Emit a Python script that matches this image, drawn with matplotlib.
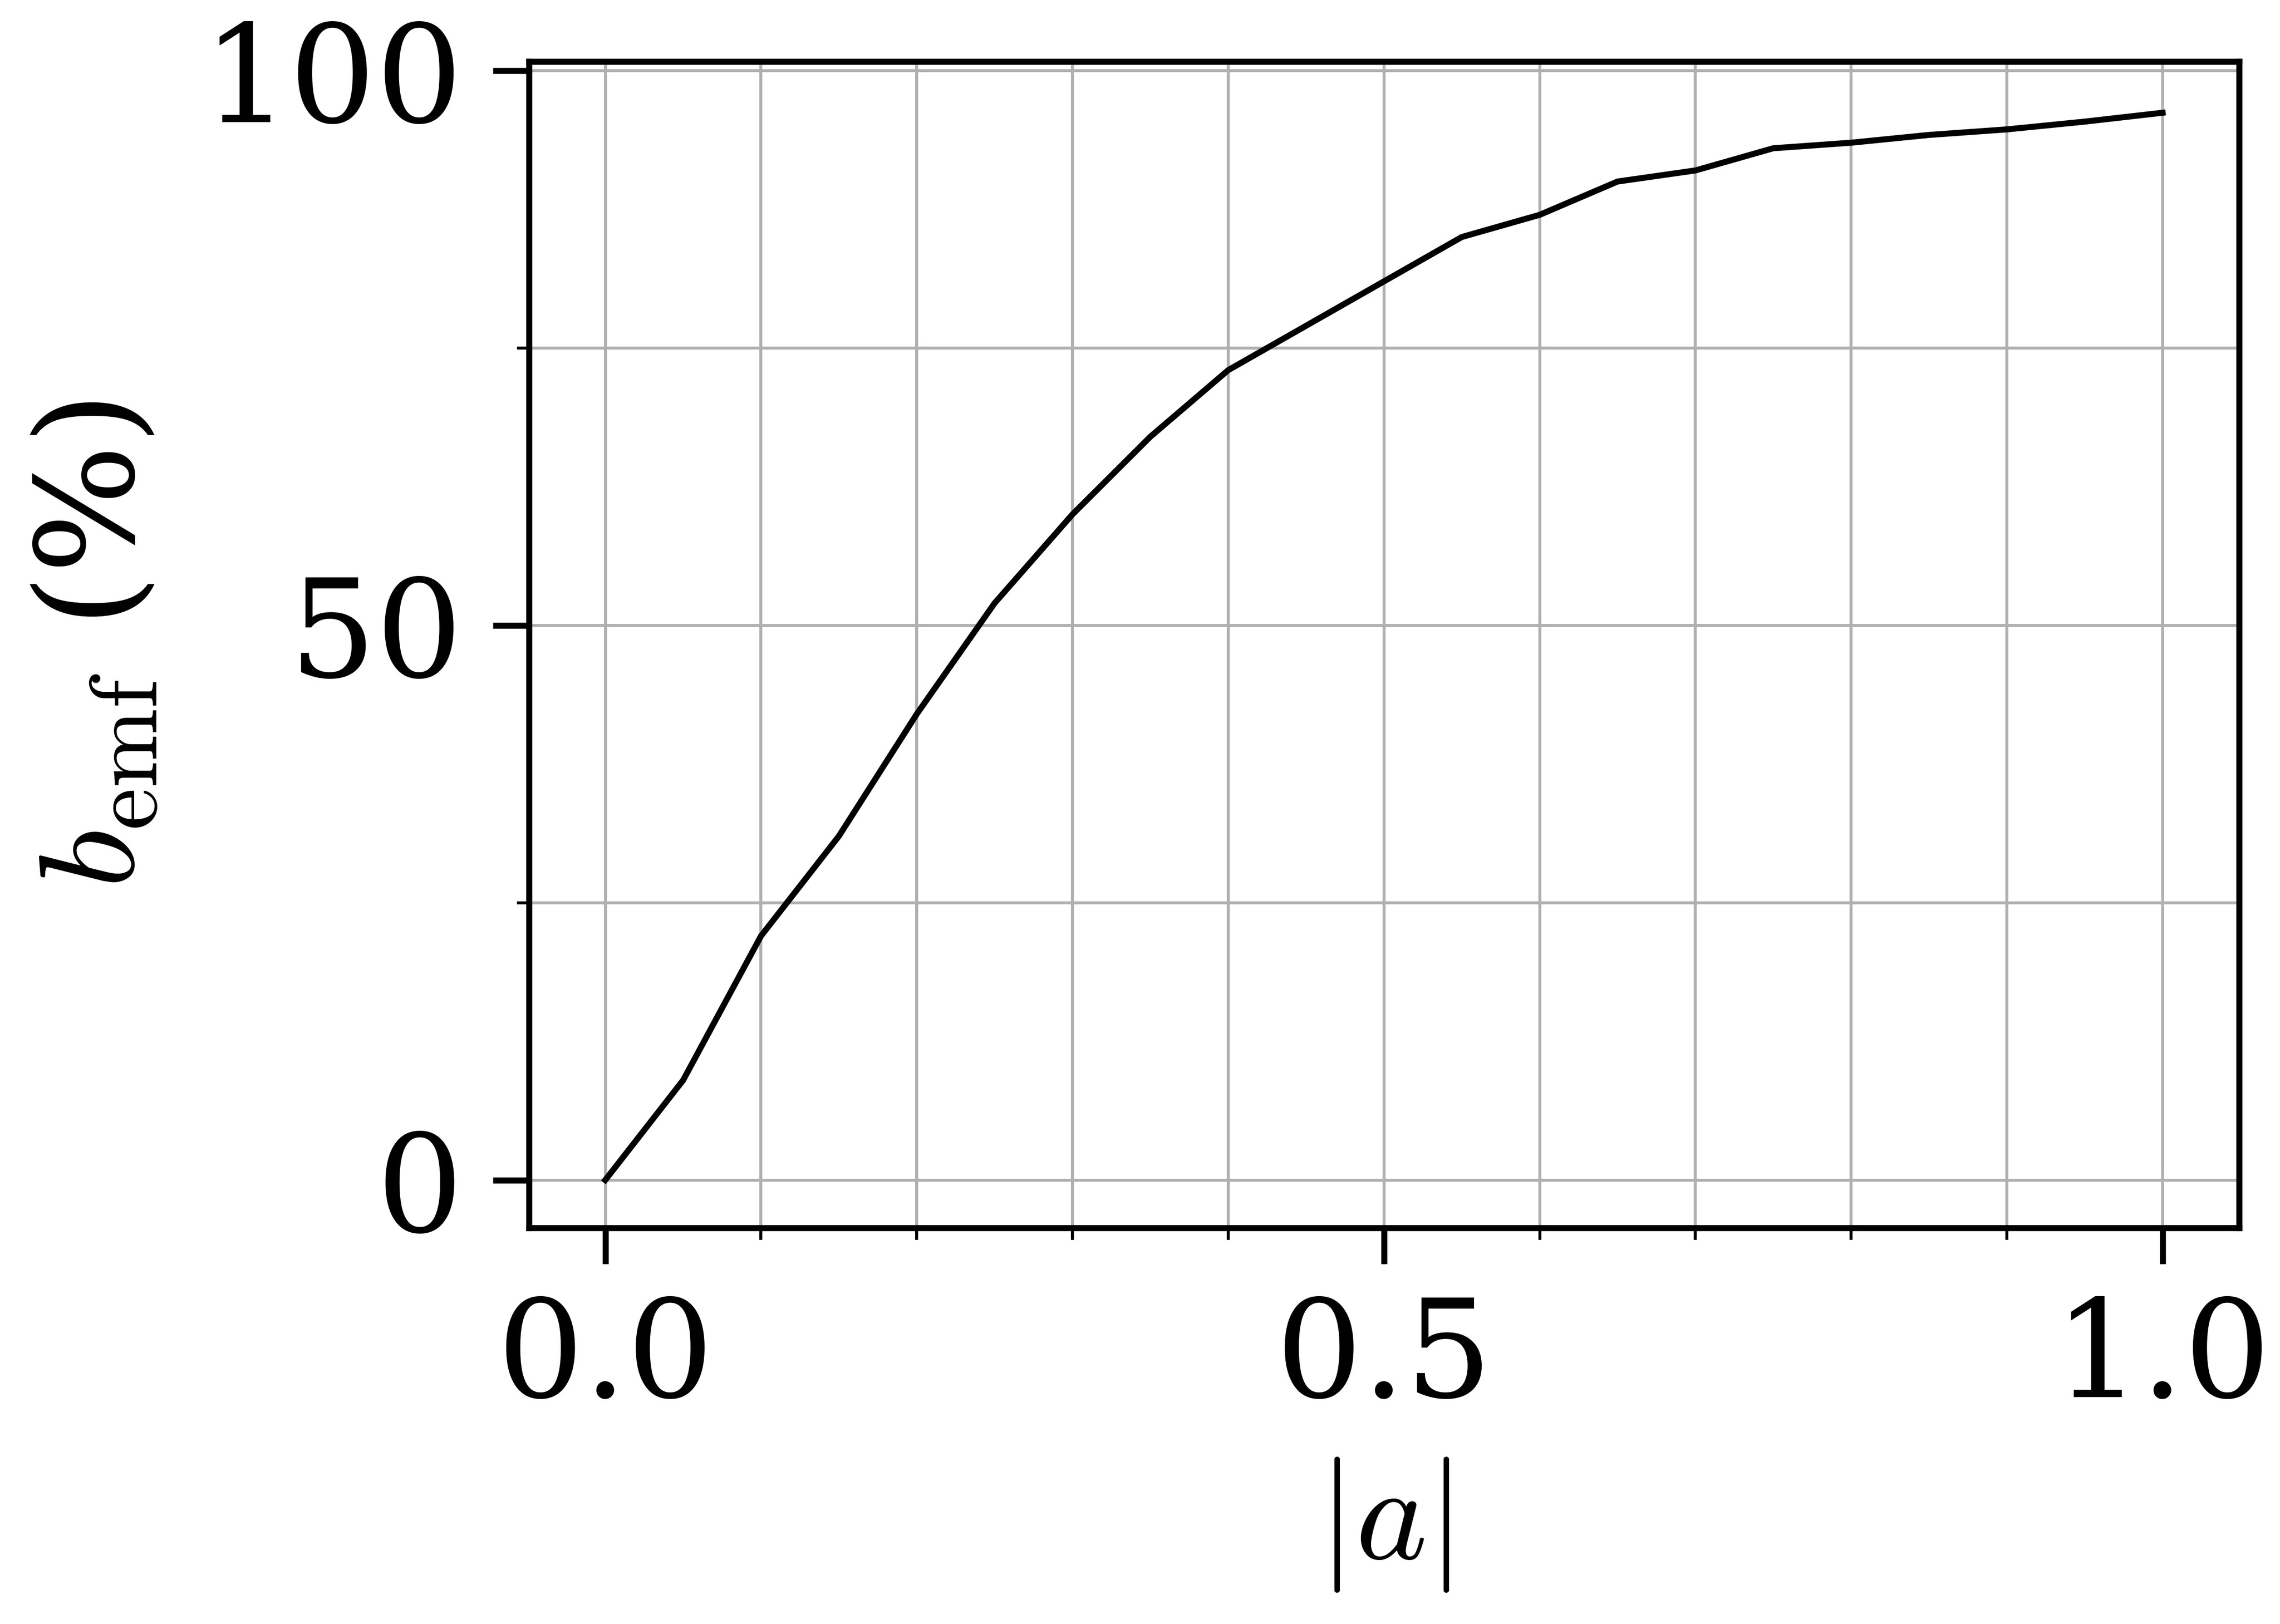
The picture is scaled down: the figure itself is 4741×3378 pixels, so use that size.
import matplotlib
matplotlib.use("Agg")
import matplotlib.pyplot as plt
import numpy as np

x_vals = [0.0, 0.05, 0.1, 0.15, 0.2, 0.25, 0.3, 0.35, 0.4, 0.45, 0.5, 0.55, 0.6, 0.65, 0.7, 0.75, 0.8, 0.85, 0.9, 0.95, 1.0]
y_vals = [0.0, 9.0, 22.0, 31.0, 42.0, 52.0, 60.0, 67.0, 73.0, 77.0, 81.0, 85.0, 87.0, 90.0, 91.0, 93.0, 93.5, 94.2, 94.7, 95.4, 96.2]

plt.rcParams['font.family'] = 'DejaVu Serif'
plt.rcParams['mathtext.fontset'] = 'cm'

fig = plt.figure(figsize=(4741/300, 3378/300), dpi=300)
ax = fig.add_axes([0.232, 0.244, 0.75, 0.718])
ax.plot(x_vals, y_vals, color='black', lw=3)
ax.set_xlim(-0.049, 1.049)
ax.set_ylim(-4.3, 100.8)
ax.set_xticks([0, 0.5, 1.0])
ax.set_xticklabels(['0.0', '0.5', '1.0'])
ax.set_xticks(np.arange(0, 1.01, 0.1), minor=True)
ax.set_yticks([0, 50, 100])
ax.set_yticks([25, 75], minor=True)
ax.grid(True, which='both', color='#b0b0b0', lw=1.5)
ax.set_axisbelow(True)
ax.tick_params(axis='both', which='major', labelsize=68, length=18, width=3, pad=15)
ax.tick_params(axis='both', which='minor', length=6, width=1.5)
for s in ax.spines.values():
    s.set_linewidth(3)
ax.set_xlabel(r'$|a|$', fontsize=68, labelpad=15)
ax.set_ylabel(r'$b_{\rm emf}$ (%)', fontsize=68, labelpad=20)
fig.savefig('out.png', dpi=300)
